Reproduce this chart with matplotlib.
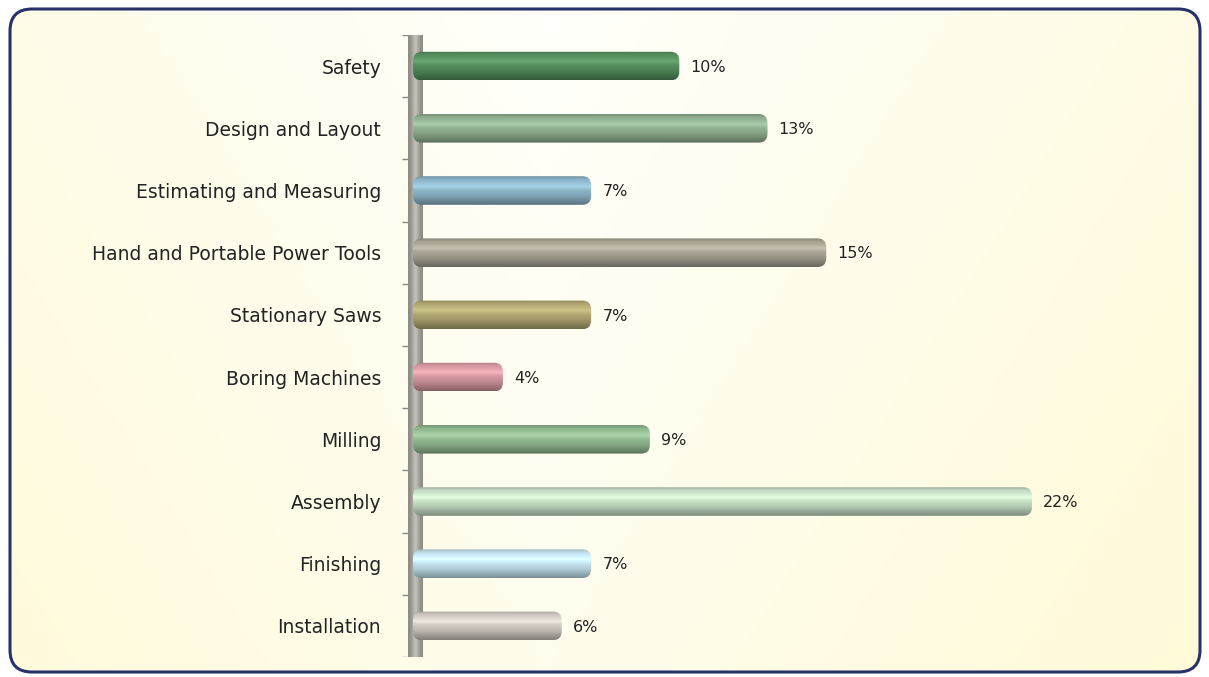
import matplotlib.pyplot as plt
import numpy as np
from matplotlib.patches import FancyBboxPatch
from matplotlib.colors import to_rgb

categories = ["Safety", "Design and Layout", "Estimating and Measuring",
              "Hand and Portable Power Tools", "Stationary Saws", "Boring Machines",
              "Milling", "Assembly", "Finishing", "Installation"]
values = [10, 13, 7, 15, 7, 4, 9, 22, 7, 6]
labels = ["10%", "13%", "7%", "15%", "7%", "4%", "9%", "22%", "7%", "6%"]
colors = ["#55905f", "#93b393", "#8fb8cc", "#aaa596", "#b3aa74",
          "#d99ba3", "#93bb93", "#c9e2c9", "#c6e6f2", "#d2ccc4"]

W, H = 1209, 677
fig = plt.figure(figsize=(W / 100, H / 100), dpi=100)
fig.patch.set_facecolor("white")

# background panel with rounded border
bg = fig.add_axes([0, 0, 1, 1], zorder=-1)
bg.set_xlim(0, W)
bg.set_ylim(H, 0)
bg.axis("off")
frame = FancyBboxPatch((10, 9), W - 19, H - 14, boxstyle="round,pad=0,rounding_size=22",
                       facecolor="none", edgecolor="#26336a", linewidth=2.2, zorder=3)
bg.add_patch(frame)
gx = np.linspace(0, 1, 200)
gy = np.linspace(0, 1, 120)
GX, GY = np.meshgrid(gx, gy)
t = np.clip(0.6 * (1 - np.abs(GX - 0.45) * 1.7) + 0.35 * (1 - GY), 0, 1)
c1 = np.array(to_rgb("#fffad6"))
c2 = np.array([1.0, 1.0, 0.99])
img = c1[None, None, :] * (1 - t[..., None]) + c2[None, None, :] * t[..., None]
im = bg.imshow(img, extent=[10, W - 9, H - 5, 9], aspect="auto", zorder=1)
clip = FancyBboxPatch((10, 9), W - 19, H - 14, boxstyle="round,pad=0,rounding_size=22",
                      facecolor="none", edgecolor="none", transform=bg.transData)
bg.add_patch(clip)
im.set_clip_path(clip)

# main axes: zero of value scale at x=385 px
x0, x1 = 385.4, 1149.6
ytop, ybot = 35, 657
ax = fig.add_axes([x0 / W, (H - ybot) / H, (x1 - x0) / W, (ybot - ytop) / H])
ax.set_facecolor("none")
xmax = (x1 - x0) / 29.39
n = len(categories)
for s in ax.spines.values():
    s.set_visible(False)
ax.set_xticks([])
ax.set_yticks(range(n))
ax.set_yticklabels(categories, fontsize=13.5, color="#222222")
ax.tick_params(axis="y", length=0, pad=3)

# gray wall
wall_l, wall_r = 0.77, 1.25
wg = np.linspace(0, 1, 50)
shade = 0.55 + 0.2 * np.exp(-((wg - 0.5) / 0.25) ** 2)
wall_img = np.stack([shade, shade, shade * 0.95], axis=1)[None, :, :] * np.ones((10, 1, 1))
ax.imshow(wall_img, extent=[wall_l, wall_r, n - 0.5, -0.5], aspect="auto", zorder=2)
ax.hlines(np.arange(n + 1) - 0.5, 0.55, wall_l, color="#888888", lw=1, zorder=2)

# bars with cylinder shading
start = 0.94
bh = 0.46
aspect = 29.39 / 62.2
rows = np.linspace(0, 1, 60)
prof = np.interp(rows, [0, 0.12, 0.35, 0.7, 1.0], [0.8, 0.98, 1.07, 0.88, 0.62])
for i, (v, c) in enumerate(zip(values, colors)):
    bar = ax.barh(i, v - start, left=start, height=bh, color="none", zorder=3)[0]
    patch = FancyBboxPatch((bar.get_x(), bar.get_y()), bar.get_width(), bar.get_height(),
                           boxstyle="round,pad=0,rounding_size=0.3",
                           mutation_aspect=aspect, facecolor="none",
                           edgecolor="none", zorder=3)
    ax.add_patch(patch)
    base = np.array(to_rgb(c))
    col = np.clip(base[None, :] * prof[:, None] + np.where(prof[:, None] > 1, (prof[:, None] - 1) * 0.8, 0), 0, 1)
    bi = ax.imshow(col[:, None, :], extent=[bar.get_x(), bar.get_x() + bar.get_width(),
                                           bar.get_y() + bar.get_height(), bar.get_y()],
                   aspect="auto", zorder=4)
    bi.set_clip_path(patch)
    ax.text(v + 0.38, i + 0.02, labels[i], va="center", ha="left",
            fontsize=11.5, color="#222222", zorder=5)

ax.set_xlim(0, xmax)
ax.set_ylim(n - 0.5, -0.5)

fig.savefig("out.png", dpi=100)
